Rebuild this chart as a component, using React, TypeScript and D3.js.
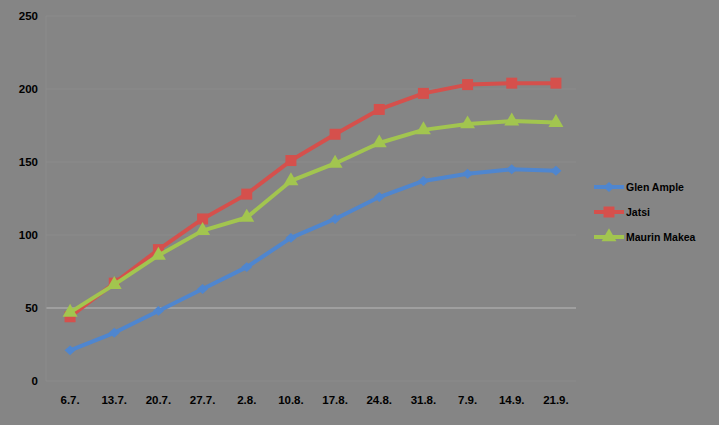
import React from "react";
import * as d3 from "d3";

const categories = ["6.7.", "13.7.", "20.7.", "27.7.", "2.8.", "10.8.", "17.8.", "24.8.", "31.8.", "7.9.", "14.9.", "21.9."];
const glenAmple = [21, 33, 48, 63, 78, 98, 111, 126, 137, 142, 145, 144];
const jatsi = [44, 67, 90, 111, 128, 151, 169, 186, 197, 203, 204, 204];
const maurinMakea = [47, 66, 86, 103, 112, 137, 149, 163, 172, 176, 178, 177];
const yTicks = [0, 50, 100, 150, 200, 250];

const seriesList = [
  { name: "Glen Ample", values: glenAmple, color: "#4f86cf", marker: "diamond" },
  { name: "Jatsi", values: jatsi, color: "#d5504c", marker: "square" },
  { name: "Maurin Makea", values: maurinMakea, color: "#a2c54f", marker: "triangle" },
];

const W = 719, H = 425;
const L = 46, R = 576, T = 16, B = 381;

function markerPath(kind: string, s: number) {
  if (kind === "diamond") {
    const h = s / 2;
    return `M${-h},0L0,${-h * 0.9}L${h},0L0,${h * 0.9}Z`;
  }
  if (kind === "square") return d3.symbol(d3.symbolSquare, s * s)()!;
  return d3.symbol(d3.symbolTriangle, s * s * 0.8)()!;
}

export default function App() {
  const x = d3.scaleBand<string>().domain(categories).range([L + 2, R + 2]);
  const y = d3.scaleLinear().domain([0, 250]).range([B, T]);
  const cx = (c: string) => (x(c) ?? 0) + x.bandwidth() / 2;
  const line = d3.line<number>().x((_, i) => cx(categories[i])).y((v) => y(v));
  const font = "Arial, 'Liberation Sans', sans-serif";

  return (
    <svg width={W} height={H} style={{ position: "absolute", left: 0, top: 0, background: "#858585" }}>
      <rect x={0} y={0} width={W} height={H} fill="#858585" />
      {yTicks.map((t) => (
        <g key={t}>
          <line x1={L} x2={R} y1={y(t)} y2={y(t)} stroke={t === 50 ? "#b9b9b9" : "#8b8b8b"} strokeWidth={1} />
          <text x={38} y={y(t)} dy="0.35em" textAnchor="end" fontFamily={font} fontWeight="bold" fontSize={11.5} fill="#000">{t}</text>
        </g>
      ))}
      <line x1={L} x2={L} y1={T} y2={B} stroke="#8b8b8b" />
      {categories.map((c) => (
        <text key={c} x={cx(c)} y={404} textAnchor="middle" fontFamily={font} fontWeight="bold" fontSize={11.5} fill="#000">{c}</text>
      ))}
      {seriesList.map((s) => (
        <g key={s.name}>
          <path d={line(s.values)!} fill="none" stroke={s.color} strokeWidth={4} strokeLinejoin="round" />
          {s.values.map((v, i) => (
            <path key={i} d={markerPath(s.marker, 11)} transform={`translate(${cx(categories[i])},${y(v)})`} fill={s.color} />
          ))}
        </g>
      ))}
      {seriesList.map((s, i) => {
        const ly = 187 + i * 25;
        return (
          <g key={s.name}>
            <line x1={594} x2={624} y1={ly} y2={ly} stroke={s.color} strokeWidth={4} />
            <path d={markerPath(s.marker, 11)} transform={`translate(609,${ly})`} fill={s.color} />
            <text x={626} y={ly} dy="0.35em" fontFamily={font} fontWeight="bold" fontSize={10.5} fill="#000">{s.name}</text>
          </g>
        );
      })}
    </svg>
  );
}
